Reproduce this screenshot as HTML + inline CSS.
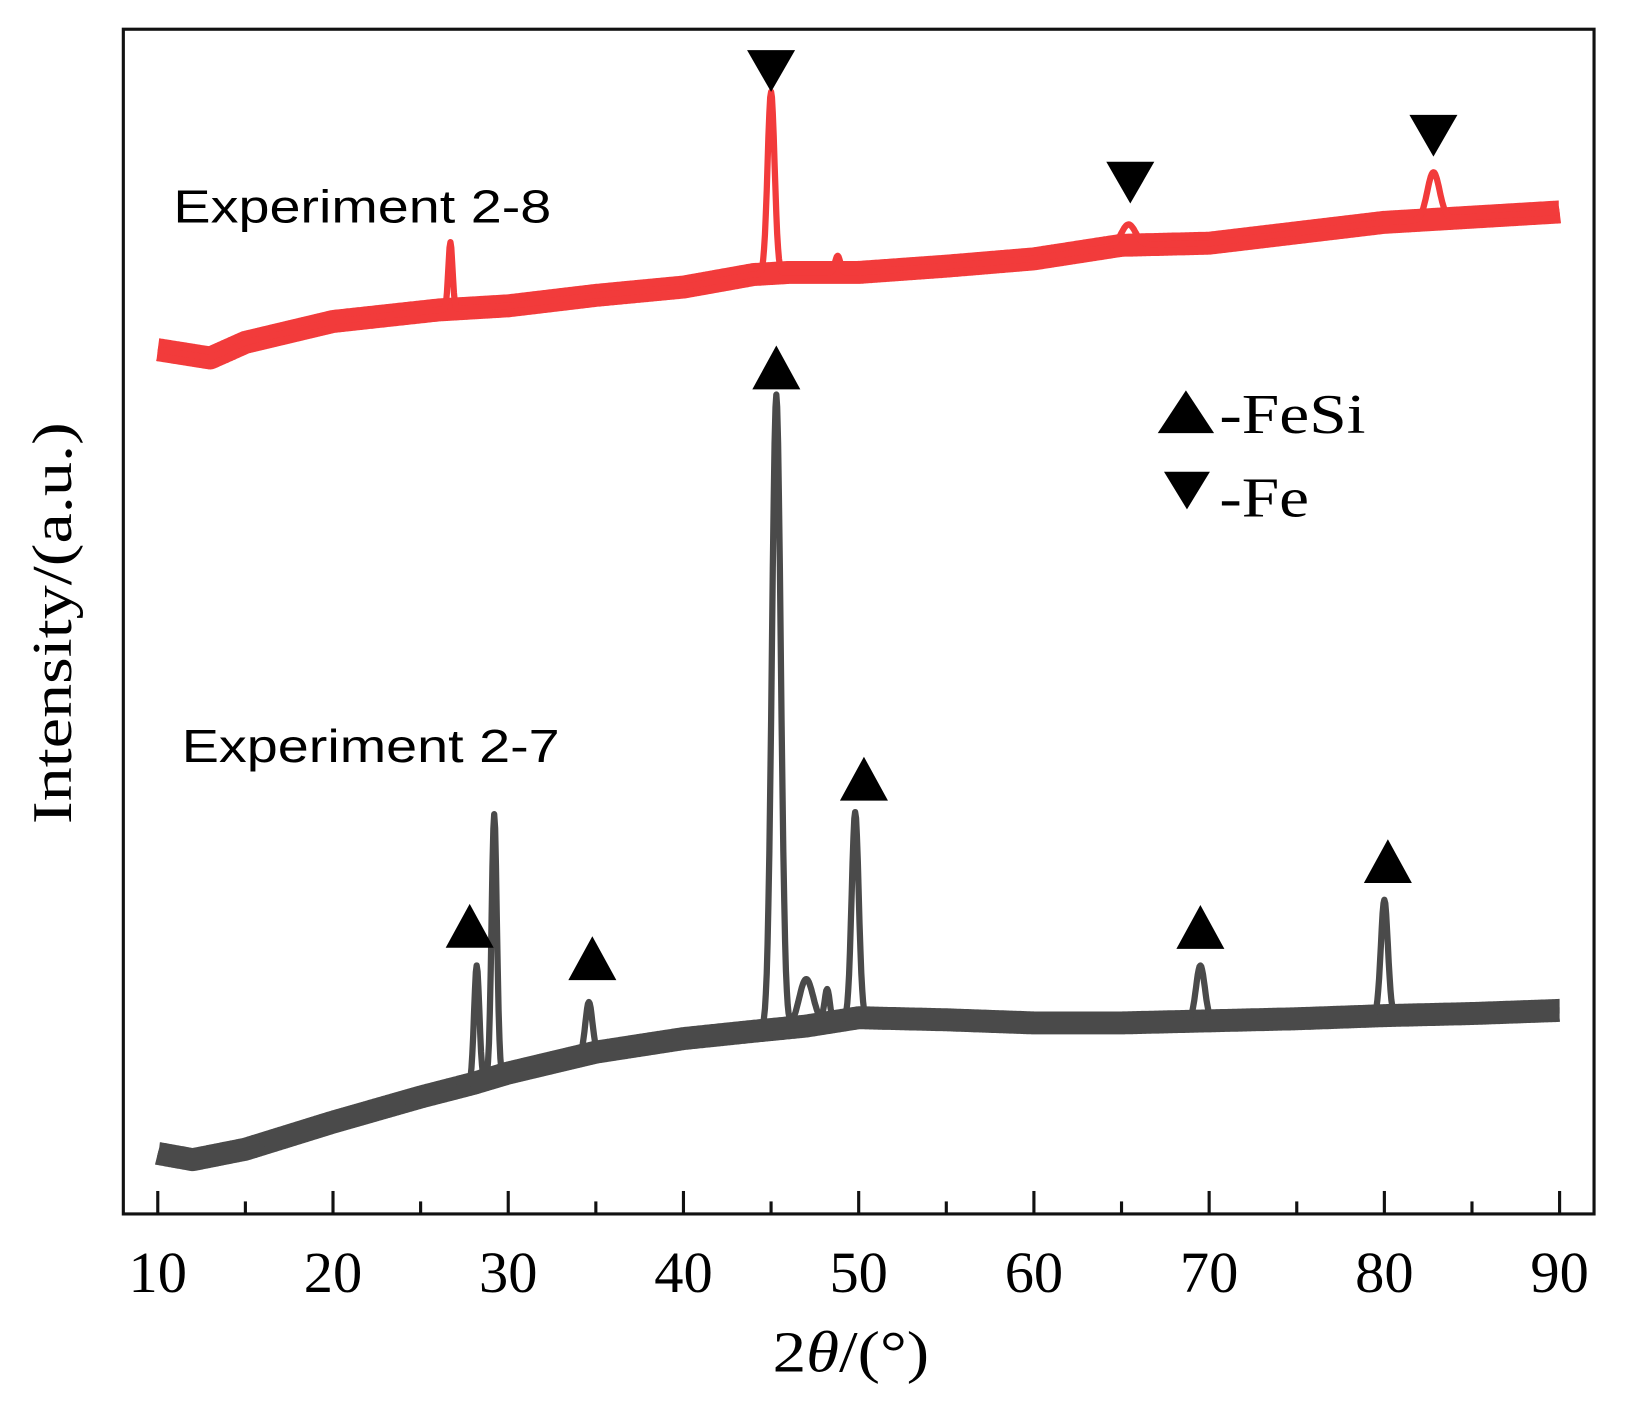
<!DOCTYPE html>
<html><head><meta charset="utf-8"><style>
html,body{margin:0;padding:0;background:#fff;}
svg{display:block;}
</style></head><body>
<svg id="chart" width="1637" height="1406" viewBox="0 0 1568 1347" xmlns="http://www.w3.org/2000/svg">
<rect x="0" y="0" width="1568" height="1347" fill="#fff"/>
<rect x="118" y="28" width="1409" height="1135" fill="none" stroke="#111" stroke-width="3"/>
<g id="ticks"></g>
<g id="series"></g>
<g id="markers"></g>
<text x="815" y="1314" font-family="Liberation Serif, serif" font-size="56" text-anchor="middle" textLength="150" lengthAdjust="spacingAndGlyphs">2<tspan font-style="italic">θ</tspan>/(°)</text>
<text transform="translate(68,597) rotate(-90)" font-family="Liberation Serif, serif" font-size="54" text-anchor="middle" textLength="385" lengthAdjust="spacingAndGlyphs">Intensity/(a.u.)</text>
<text x="166" y="213" font-family="Liberation Sans, sans-serif" font-size="44" textLength="362" lengthAdjust="spacingAndGlyphs">Experiment 2-8</text>
<text x="174" y="730" font-family="Liberation Sans, sans-serif" font-size="44" textLength="362" lengthAdjust="spacingAndGlyphs">Experiment 2-7</text>
<g>
<polygon points="1136,374 1163,415 1109,415" fill="#000"/>
<text x="1168" y="415" font-family="Liberation Serif, serif" font-size="54" textLength="140" lengthAdjust="spacingAndGlyphs">-FeSi</text>
<polygon points="1115,452 1159,452 1137,488" fill="#000"/>
<text x="1168" y="495" font-family="Liberation Serif, serif" font-size="54" textLength="86" lengthAdjust="spacingAndGlyphs">-Fe</text>
</g>
</svg>
<script>
const xTicks = [10,20,30,40,50,60,70,80,90];
const minorTicks = [15,25,35,45,55,65,75,85];
// series 2-7 (grey): baseline anchor points [2theta, intensity]
const base27X = [10,12,15,20,25,28,30,35,40,44,47,50,55,60,65,70,75,80,85,90];
const base27Y = [58,52,62,88,112,125,135,155,168,175,180,188,186,183,183,185,187,190,192,195];
const peak27X = [28.2,29.2,34.6,45.3,47.0,48.2,49.8,69.5,80.0];
const peak27Y = [238,383,203,785,225,215,385,238,301];
const peak27W = [0.15,0.15,0.2,0.25,0.4,0.15,0.2,0.25,0.2];
// series 2-8 (red)
const base28X = [10,13,15,20,26,30,35,40,44,46,50,55,60,65,70,75,80,85,90];
const base28Y = [828,820,835,855,866,870,880,888,900,902,902,908,915,928,930,940,950,955,960];
const peak28X = [26.7,45.0,48.8,65.4,82.8];
const peak28Y = [931,1075,918,948,998];
const peak28W = [0.12,0.2,0.15,0.4,0.35];
// markers
const downX = [45.0,65.5,82.8]; const downY = [1095,988,1033];
const upX = [45.3,27.8,34.8,50.3,69.5,80.2]; const upY = [811,276,245,417,275,338];

const X0=10,X1=90,PX0=151,PX1=1494,PY0=1163,PY1=28,YMAX=1135;
const sx = v => PX0+(v-X0)/(X1-X0)*(PX1-PX0);
const sy = v => PY0-(v/YMAX)*(PY0-PY1);
const NS='http://www.w3.org/2000/svg';
function mk(tag,attrs,parent){const e=document.createElementNS(NS,tag);for(const k in attrs)e.setAttribute(k,attrs[k]);parent.appendChild(e);return e;}
function interp(xs,ys,x){for(let i=0;i<xs.length-1;i++){if(x<=xs[i+1]){const t=(x-xs[i])/(xs[i+1]-xs[i]);return ys[i]+t*(ys[i+1]-ys[i]);}}return ys[ys.length-1];}
const tg=document.getElementById('ticks');
xTicks.forEach(t=>{
  const l=mk('line',{x1:sx(t),x2:sx(t),y1:PY0,y2:PY0-22,stroke:'#111','stroke-width':3},tg);
  
  
  const tx=mk('text',{x:sx(t),y:1238,'font-family':'Liberation Serif, serif','font-size':56,'text-anchor':'middle'},tg);
  tx.textContent=t;
  
  
});
minorTicks.forEach(t=>{
  const l=mk('line',{x1:sx(t),x2:sx(t),y1:PY0,y2:PY0-12,stroke:'#111','stroke-width':3},tg);
  
  
});
function drawSeries(bx,by,px,py,pw,color,name){
  const g=document.getElementById('series');
  let band='',line='';
  for(let x=X0;x<=X1+1e-9;x+=0.05){
    const b=interp(bx,by,x);
    band+=(band?'L':'M')+sx(x).toFixed(1)+','+sy(b).toFixed(1);
    let v=b;
    for(let i=0;i<px.length;i++){const bp=interp(bx,by,px[i]);const d=(x-px[i])/pw[i];v+=(py[i]-bp)*Math.exp(-d*d/2);}
    line+=(line?'L':'M')+sx(x).toFixed(1)+','+sy(v).toFixed(1);
  }
  const b=mk('path',{d:band,fill:'none',stroke:color,'stroke-width':22,'stroke-linejoin':'round','stroke-linecap':'butt'},g);
  
  
  const l=mk('path',{d:line,fill:'none',stroke:color,'stroke-width':6,'stroke-linejoin':'round'},g);
  
  
}
drawSeries(base27X,base27Y,peak27X,peak27Y,peak27W,'#4a4a4a','series-2-7');
drawSeries(base28X,base28Y,peak28X,peak28Y,peak28W,'#f23b3b','series-2-8');
const mg=document.getElementById('markers');
downX.forEach((x,i)=>{const cx=sx(x),cy=sy(downY[i]);
  const p=mk('polygon',{points:`${cx-23},${cy-20} ${cx+23},${cy-20} ${cx},${cy+20}`,fill:'#000'},mg);
  
  });
upX.forEach((x,i)=>{const cx=sx(x),cy=sy(upY[i]);
  const p=mk('polygon',{points:`${cx},${cy-21} ${cx+23},${cy+21} ${cx-23},${cy+21}`,fill:'#000'},mg);
  
  });
</script>
</body></html>
